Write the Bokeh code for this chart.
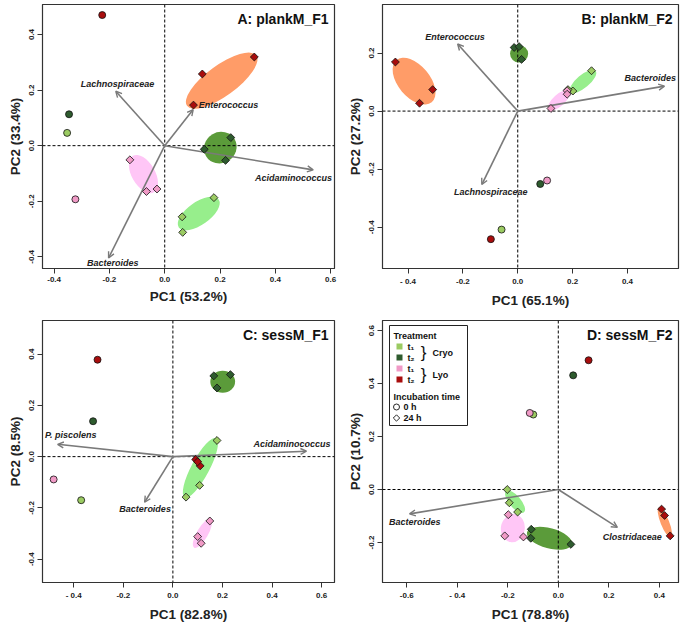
import numpy as np
from bokeh.plotting import figure
from bokeh.models import (Range1d, FixedTicker, Span, Arrow, OpenHead, Label,
                          BoxAnnotation, ColumnDataSource)
from bokeh.layouts import column, row
from bokeh.embed import file_html
from bokeh.resources import INLINE
from bokeh.core.properties import value

FONT = "Liberation Sans"

# ---------------- groups / colours ----------------
GROUPS = ["Cryo t1", "Cryo t2", "Lyo t1", "Lyo t2"]
POINT_COLORS = ["#9BCB62", "#2E5B2E", "#F09AC6", "#A80D0D"]
ELLIPSE_COLORS = ["#97EE8C", "#5B9B3A", "#FFC6F6", "#FF9C68"]

# ---------------- Panel A ----------------
A_TITLE = "A: plankM_F1"
A_XLABEL, A_YLABEL = "PC1 (53.2%)", "PC2 (33.4%)"
A_XRANGE, A_YRANGE = (-0.442, 0.614), (-0.442, 0.508)
A_XTICKS = [-0.4, -0.2, 0.0, 0.2, 0.4, 0.6]
A_XTICK_LABELS = ["-0.4", "-0.2", "0.0", "0.2", "0.4", "0.6"]
A_YTICKS = [-0.4, -0.2, 0.0, 0.2, 0.4]
A_YTICK_LABELS = ["-0.4", "-0.2", "0.0", "0.2", "0.4"]
A_X0 = [-0.353, -0.346, -0.323, -0.226]
A_Y0 = [0.046, 0.113, -0.193, 0.470]
A_X24 = [[0.178, 0.063, 0.065], [0.239, 0.143, 0.220], [-0.126, -0.066, -0.028], [0.136, 0.324, 0.104]]
A_Y24 = [[-0.187, -0.256, -0.312], [0.029, -0.013, -0.053], [-0.051, -0.165, -0.156], [0.258, 0.319, 0.146]]
A_ELL_X = [0.123, 0.201, -0.077, 0.206]
A_ELL_Y = [-0.244, -0.007, -0.102, 0.234]
A_ELL_A = [0.088, 0.060, 0.076, 0.155]
A_ELL_B = [0.041, 0.056, 0.042, 0.055]
A_ELL_ANG = [35, 30, -60, 36]
A_ARROW_NAMES = ["Lachnospiraceae", "Enterococcus", "Acidaminococcus", "Bacteroides"]
A_ARROW_X = [-0.177, 0.103, 0.537, -0.203]
A_ARROW_Y = [0.196, 0.130, -0.087, -0.404]
A_LABEL_X = [-0.171, 0.231, 0.466, -0.188]
A_LABEL_Y = [0.223, 0.146, -0.115, -0.424]

# ---------------- Panel B ----------------
B_TITLE = "B: plankM_F2"
B_XLABEL, B_YLABEL = "PC1 (65.1%)", "PC2 (27.2%)"
B_XRANGE, B_YRANGE = (-0.493, 0.586), (-0.542, 0.367)
B_XTICKS = [-0.4, -0.2, 0.0, 0.2, 0.4]
B_XTICK_LABELS = ["- 0.4", "-0.2", "0.0", "0.2", "0.4"]
B_YTICKS = [-0.4, -0.2, 0.0, 0.2]
B_YTICK_LABELS = ["-0.4", "-0.2", "0.0", "0.2"]
B_X0 = [-0.059, 0.082, 0.107, -0.098]
B_Y0 = [-0.408, -0.251, -0.239, -0.441]
B_X24 = [[0.269, 0.201, 0.183], [-0.013, 0.005, 0.014], [0.180, 0.180, 0.121], [-0.446, -0.310, -0.358]]
B_Y24 = [[0.139, 0.069, 0.074], [0.219, 0.222, 0.178], [0.070, 0.058, 0.009], [0.169, 0.074, 0.027]]
B_ELL_X = [0.238, 0.005, 0.150, -0.378]
B_ELL_Y = [0.102, 0.197, 0.037, 0.103]
B_ELL_A = [0.060, 0.033, 0.050, 0.100]
B_ELL_B = [0.022, 0.030, 0.020, 0.055]
B_ELL_ANG = [40, 0, 42, -50]
B_ARROW_NAMES = ["Enterococcus", "Bacteroides", "Lachnospiraceae"]
B_ARROW_X = [-0.219, 0.535, -0.131]
B_ARROW_Y = [0.231, 0.086, -0.253]
B_LABEL_X = [-0.229, 0.483, -0.098]
B_LABEL_Y = [0.256, 0.114, -0.280]

# ---------------- Panel C ----------------
C_TITLE = "C: sessM_F1"
C_XLABEL, C_YLABEL = "PC1 (82.8%)", "PC2 (8.5%)"
C_XRANGE, C_YRANGE = (-0.526, 0.652), (-0.491, 0.531)
C_XTICKS = [-0.4, -0.2, 0.0, 0.2, 0.4, 0.6]
C_XTICK_LABELS = ["- 0.4", "-0.2", "0.0", "0.2", "0.4", "0.6"]
C_YTICKS = [-0.4, -0.2, 0.0, 0.2, 0.4]
C_YTICK_LABELS = ["-0.4", "-0.2", "0.0", "0.2", "0.4"]
C_X0 = [-0.370, -0.322, -0.481, -0.304]
C_Y0 = [-0.170, 0.138, -0.089, 0.378]
C_X24 = [[0.178, 0.108, 0.053], [0.165, 0.232, 0.178], [0.149, 0.100, 0.114], [0.092, 0.110, 0.100]]
C_Y24 = [[0.063, -0.112, -0.158], [0.315, 0.320, 0.268], [-0.251, -0.312, -0.338], [-0.011, -0.036, -0.020]]
C_ELL_X = [0.111, 0.201, 0.119, 0.100]
C_ELL_Y = [-0.044, 0.292, -0.300, -0.022]
C_ELL_A = [0.135, 0.050, 0.066, 0.025]
C_ELL_B = [0.035, 0.043, 0.022, 0.012]
C_ELL_ANG = [62, 0, 60, -55]
C_ARROW_NAMES = ["P. piscolens", "Acidaminococcus", "Bacteroides"]
C_ARROW_X = [-0.465, 0.539, -0.114]
C_ARROW_Y = [0.048, 0.021, -0.178]
C_LABEL_X = [-0.412, 0.481, -0.112]
C_LABEL_Y = [0.083, 0.048, -0.204]

# ---------------- Panel D ----------------
D_TITLE = "D: sessM_F2"
D_XLABEL, D_YLABEL = "PC1 (78.8%)", "PC2 (10.7%)"
D_XRANGE, D_YRANGE = (-0.696, 0.476), (-0.351, 0.638)
D_XTICKS = [-0.6, -0.4, -0.2, 0.0, 0.2, 0.4]
D_XTICK_LABELS = ["-0.6", "- 0.4", "-0.2", "0.0", "0.2", "0.4"]
D_YTICKS = [-0.2, 0.0, 0.2, 0.4, 0.6]
D_YTICK_LABELS = ["-0.2", "0.0", "0.2", "0.4", "0.6"]
D_X0 = [-0.099, 0.059, -0.113, 0.120]
D_Y0 = [0.283, 0.431, 0.289, 0.488]
D_X24 = [[-0.202, -0.194, -0.161], [-0.107, -0.109, 0.050], [-0.198, -0.212, -0.138], [0.409, 0.421, 0.443]]
D_Y24 = [[0.000, -0.050, -0.085], [-0.150, -0.184, -0.207], [-0.095, -0.175, -0.179], [-0.074, -0.098, -0.175]]
D_ELL_X = [-0.171, -0.035, -0.180, 0.422]
D_ELL_Y = [-0.046, -0.184, -0.146, -0.124]
D_ELL_A = [0.055, 0.092, 0.056, 0.063]
D_ELL_B = [0.022, 0.038, 0.045, 0.016]
D_ELL_ANG = [-50, -15, 80, -68]
D_ARROW_NAMES = ["Bacteroides", "Clostridaceae"]
D_ARROW_X = [-0.589, 0.234]
D_ARROW_Y = [-0.092, -0.143]
D_LABEL_X = [-0.568, 0.293]
D_LABEL_Y = [-0.121, -0.179]

# legend texts
LEG_TITLE1 = "Treatment"
LEG_TITLE2 = "Incubation time"
LEG_T_LABELS = ["t\u2081", "t\u2082", "t\u2081", "t\u2082"]
LEG_METHODS = ["Cryo", "Lyo"]
LEG_TIMES = ["0 h", "24 h"]

# ---------------- layout ----------------
COL_W = [340, 340]
ROW_H = [310, 314]
BORDER_L = 42
BORDER_R = [6, 2]
BORDER_T = [4, 10]
BORDER_B = 42


def frame_px(ci, ri):
    return COL_W[ci] - BORDER_L - BORDER_R[ci], ROW_H[ri] - BORDER_T[ri] - BORDER_B


def px2data(xr, yr, fw, fh, ox, oy):
    x = xr[0] + ox / fw * (xr[1] - xr[0])
    y = yr[1] - oy / fh * (yr[1] - yr[0])
    return x, y


def make_panel(ci, ri, title, xlabel, ylabel, xr, yr, xt, xtl, yt, ytl,
               x0, y0, x24, y24, ex, ey, ea, eb, eang, anames, ax, ay, lx, ly):
    fw, fh = frame_px(ci, ri)
    p = figure(width=COL_W[ci], height=ROW_H[ri], x_range=Range1d(*xr), y_range=Range1d(*yr),
               output_backend="svg", toolbar_location=None, tools="",
               min_border_left=BORDER_L, min_border_right=BORDER_R[ci],
               min_border_top=BORDER_T[ri], min_border_bottom=BORDER_B)
    p.grid.visible = False
    p.outline_line_color = "#333333"
    p.outline_line_width = 1.2
    p.background_fill_color = "white"
    p.border_fill_color = "white"

    p.xaxis.ticker = FixedTicker(ticks=xt)
    p.yaxis.ticker = FixedTicker(ticks=yt)
    p.xaxis.major_label_overrides = {t: l for t, l in zip(xt, xtl)}
    p.yaxis.major_label_overrides = {t: l for t, l in zip(yt, ytl)}
    p.yaxis.major_label_orientation = "vertical"
    for axis, lab in ((p.xaxis[0], xlabel), (p.yaxis[0], ylabel)):
        axis.axis_label = lab
        axis.axis_label_text_font = FONT
        axis.axis_label_text_font_style = "bold"
        axis.axis_label_text_font_size = "13.5px"
        axis.axis_label_text_color = "#222222"
        axis.axis_label_standoff = 4
        axis.major_label_text_font = FONT
        axis.major_label_text_font_style = "bold"
        axis.major_label_text_font_size = "8px"
        axis.major_label_text_color = "#222222"
        axis.major_label_standoff = 3
        axis.major_tick_out = 5
        axis.major_tick_in = 0
        axis.minor_tick_out = 0
        axis.minor_tick_in = 0
        axis.axis_line_color = "#333333"
        axis.major_tick_line_color = "#333333"

    # ellipses
    esrc = ColumnDataSource(dict(x=ex, y=ey, w=[2 * a for a in ea], h=[2 * b for b in eb],
                                 ang=eang, c=ELLIPSE_COLORS))
    p.ellipse(x="x", y="y", width="w", height="h", angle="ang", angle_units="deg",
              fill_color="c", line_color=None, source=esrc)

    # zero lines
    for dim in ("width", "height"):
        p.add_layout(Span(location=0, dimension=dim, line_color="black",
                          line_width=1, line_dash="3 2"))

    # arrows
    asrc = ColumnDataSource(dict(x0=[0.0] * len(ax), y0=[0.0] * len(ay), x1=ax, y1=ay))
    p.add_layout(Arrow(end=OpenHead(size=6, line_color="#7a7a7a", line_width=1.4),
                       x_start="x0", y_start="y0", x_end="x1", y_end="y1",
                       line_color="#7a7a7a", line_width=1.6, source=asrc))
    tsrc = ColumnDataSource(dict(x=lx, y=ly, t=anames))
    p.text(x="x", y="y", text="t", source=tsrc, text_font=value(FONT),
           text_font_style="bold italic", text_font_size="9px", text_color="#222222",
           text_align="center", text_baseline="middle")

    # points: 0 h circles
    csrc = ColumnDataSource(dict(x=x0, y=y0, c=POINT_COLORS))
    r = p.scatter(x="x", y="y", marker="circle", size=7, fill_color="c",
                  line_color="#111111", line_width=0.8, source=csrc)
    r.level = "overlay"
    # 24 h diamonds
    dx, dy, dc = [], [], []
    for gx, gy, col in zip(x24, y24, POINT_COLORS):
        dx += gx
        dy += gy
        dc += [col] * len(gx)
    dsrc = ColumnDataSource(dict(x=dx, y=dy, c=dc))
    r = p.scatter(x="x", y="y", marker="square", angle=np.pi / 4, size=5.6, fill_color="c",
                  line_color="#111111", line_width=0.8, source=dsrc)
    r.level = "overlay"

    # panel title
    tx, ty = px2data(xr, yr, fw, fh, fw - 6, 6)
    p.add_layout(Label(x=tx, y=ty, text=title, text_font=FONT, text_font_style="bold",
                       text_font_size="14px", text_color="#111111",
                       text_align="right", text_baseline="top"))
    return p, fw, fh


pA, _, _ = make_panel(0, 0, A_TITLE, A_XLABEL, A_YLABEL, A_XRANGE, A_YRANGE, A_XTICKS, A_XTICK_LABELS,
                      A_YTICKS, A_YTICK_LABELS, A_X0, A_Y0, A_X24, A_Y24, A_ELL_X, A_ELL_Y, A_ELL_A,
                      A_ELL_B, A_ELL_ANG, A_ARROW_NAMES, A_ARROW_X, A_ARROW_Y, A_LABEL_X, A_LABEL_Y)
pB, _, _ = make_panel(1, 0, B_TITLE, B_XLABEL, B_YLABEL, B_XRANGE, B_YRANGE, B_XTICKS, B_XTICK_LABELS,
                      B_YTICKS, B_YTICK_LABELS, B_X0, B_Y0, B_X24, B_Y24, B_ELL_X, B_ELL_Y, B_ELL_A,
                      B_ELL_B, B_ELL_ANG, B_ARROW_NAMES, B_ARROW_X, B_ARROW_Y, B_LABEL_X, B_LABEL_Y)
pC, _, _ = make_panel(0, 1, C_TITLE, C_XLABEL, C_YLABEL, C_XRANGE, C_YRANGE, C_XTICKS, C_XTICK_LABELS,
                      C_YTICKS, C_YTICK_LABELS, C_X0, C_Y0, C_X24, C_Y24, C_ELL_X, C_ELL_Y, C_ELL_A,
                      C_ELL_B, C_ELL_ANG, C_ARROW_NAMES, C_ARROW_X, C_ARROW_Y, C_LABEL_X, C_LABEL_Y)
pD, fwD, fhD = make_panel(1, 1, D_TITLE, D_XLABEL, D_YLABEL, D_XRANGE, D_YRANGE, D_XTICKS, D_XTICK_LABELS,
                          D_YTICKS, D_YTICK_LABELS, D_X0, D_Y0, D_X24, D_Y24, D_ELL_X, D_ELL_Y, D_ELL_A,
                          D_ELL_B, D_ELL_ANG, D_ARROW_NAMES, D_ARROW_X, D_ARROW_Y, D_LABEL_X, D_LABEL_Y)

# ---------------- legend in panel D ----------------
def L(ox, oy):
    return px2data(D_XRANGE, D_YRANGE, fwD, fhD, ox, oy)

bx0, by0 = L(7, 5)
bx1, by1 = L(85, 105)
pD.add_layout(BoxAnnotation(left=bx0, right=bx1, top=by0, bottom=by1, fill_color="white",
                            fill_alpha=1, line_color="#222222", line_width=1, line_alpha=1,
                            level="annotation"))

row_y = [26, 37, 48, 59]
sq = [L(17, oy) for oy in row_y]
tt = [L(25, oy) for oy in row_y]
r = pD.scatter(x=[s[0] for s in sq], y=[s[1] for s in sq], marker="square", size=6,
               fill_color=POINT_COLORS, line_color=None)
r.level = "overlay"

head = [L(11, 15), L(11, 76)]
meth = [L(50, 32), L(50, 54)]
brace = [L(41, 31.5), L(41, 53.5)]
tm_sym = [L(14, 86.5), L(14, 97.5)]
tm_txt = [L(21, 86.5), L(21, 97.5)]

txt_items = [
    ([h[0] for h in head], [h[1] for h in head], [LEG_TITLE1, LEG_TITLE2], "9px", "bold", "left"),
    ([t[0] for t in tt], [t[1] for t in tt], LEG_T_LABELS, "9px", "bold", "left"),
    ([m[0] for m in meth], [m[1] for m in meth], LEG_METHODS, "9px", "bold", "left"),
    ([b[0] for b in brace], [b[1] for b in brace], ["}", "}"], "17px", "normal", "center"),
    ([t[0] for t in tm_txt], [t[1] for t in tm_txt], LEG_TIMES, "9px", "bold", "left"),
]
for xs, ys, texts, fs, style, align in txt_items:
    r = pD.text(x=xs, y=ys, text=texts, text_font=value(FONT), text_font_size=fs,
                text_font_style=style, text_color="#111111", text_align=align,
                text_baseline="middle")
    r.level = "overlay"

r = pD.scatter(x=[tm_sym[0][0]], y=[tm_sym[0][1]], marker="circle", size=6,
               fill_color="white", line_color="#111111", line_width=0.9)
r.level = "overlay"
r = pD.scatter(x=[tm_sym[1][0]], y=[tm_sym[1][1]], marker="square", angle=np.pi / 4, size=4.5,
               fill_color="white", line_color="#111111", line_width=0.9)
r.level = "overlay"

layout = column(row(pA, pB), row(pC, pD))
open("out.html", "w").write(file_html(layout, INLINE))
